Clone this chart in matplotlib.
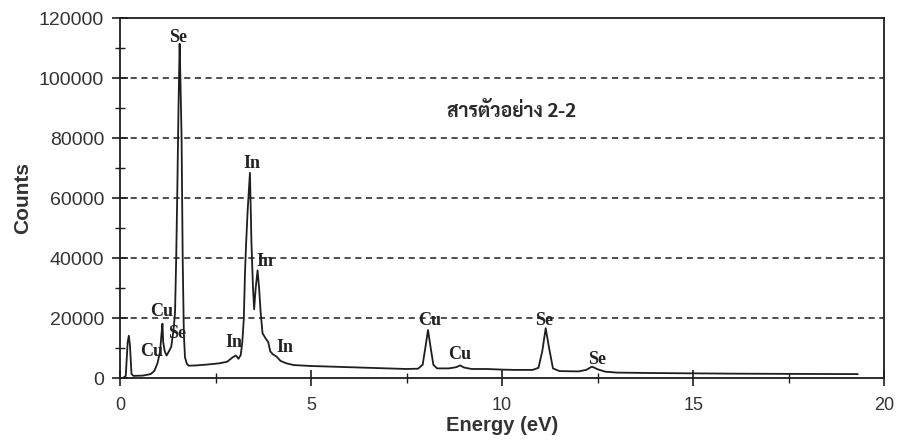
import matplotlib
matplotlib.use("Agg")
import matplotlib.pyplot as plt
from matplotlib.ticker import MultipleLocator

plt.rcParams["font.family"] = ["Liberation Sans", "DejaVu Sans"]

# EDS spectrum, sample 2-2 (energy vs counts)
energy = [0.07, 0.15, 0.20, 0.23, 0.26, 0.30, 0.35, 0.60, 0.80, 0.90, 0.98, 1.05,
          1.08, 1.11, 1.13, 1.17, 1.22, 1.28, 1.34, 1.40, 1.44, 1.47, 1.50, 1.53,
          1.56, 1.58, 1.61, 1.64, 1.67, 1.70, 1.75, 1.80, 2.0, 2.3, 2.6, 2.8,
          2.95, 3.03, 3.10, 3.16, 3.20, 3.24, 3.27, 3.30, 3.34, 3.40, 3.44, 3.48,
          3.51, 3.55, 3.60, 3.64, 3.68, 3.73, 3.80, 3.88, 3.93, 4.00, 4.10, 4.20,
          4.35, 4.55, 5.0, 5.5, 6.0, 6.5, 7.0, 7.5, 7.8, 7.92, 8.0, 8.06,
          8.12, 8.2, 8.3, 8.6, 8.8, 8.9, 9.0, 9.2, 9.6, 10.0, 10.3, 10.8,
          10.95, 11.05, 11.14, 11.23, 11.33, 11.5, 12.0, 12.2, 12.35, 12.5, 12.7, 13.0,
          14.0, 15.0, 16.0, 17.0, 18.0, 19.3]
counts = [0, 800, 12000, 14200, 11000, 1500, 800, 900, 1400, 2500, 5000, 9000,
          14000, 18200, 12000, 9000, 7600, 9000, 10500, 16000, 22000, 40000, 63000, 90000,
          111500, 100000, 81000, 40000, 15000, 7000, 4800, 4200, 4300, 4600, 5000, 5500,
          7000, 7600, 6500, 7800, 12000, 20000, 35000, 45000, 56000, 68500, 45000, 30000,
          23000, 30000, 36000, 30000, 22000, 15000, 13500, 12000, 9000, 8000, 7200, 5800,
          5000, 4400, 4100, 3900, 3700, 3500, 3300, 3100, 3200, 4500, 11000, 16100,
          11000, 4500, 3300, 3300, 3700, 4300, 3600, 3100, 3100, 2900, 2800, 2800,
          3500, 9000, 16700, 10000, 3300, 2400, 2300, 2800, 3900, 3000, 2200, 1900,
          1750, 1650, 1550, 1500, 1450, 1400]

# peak labels
peak_names = ["Se", "In", "In", "Cu", "Se", "Cu", "In", "In", "Cu", "Cu", "Se", "Se"]
peak_x = [1.52, 3.45, 3.79, 1.09, 1.48, 0.83, 2.97, 4.32, 8.10, 8.88, 11.10, 12.48]
peak_y = [113500, 71700, 38900, 22200, 15000, 8900, 11900, 10300, 19200, 7800, 19200, 6100]

sample_name = "สารตัวอย่าง 2-2"

fig = plt.figure(figsize=(8.97, 4.47), dpi=100)
ax = fig.add_axes([0.1338, 0.1537, 0.852, 0.8053])

ax.plot(energy, counts, color="#1e1e1e", lw=1.3)

ax.set_xlim(0, 20)
ax.set_ylim(0, 120000)
ax.xaxis.set_major_locator(MultipleLocator(5))
ax.xaxis.set_minor_locator(MultipleLocator(2.5))
ax.yaxis.set_major_locator(MultipleLocator(20000))
ax.yaxis.set_minor_locator(MultipleLocator(10000))
ax.tick_params(which="major", direction="inout", length=11, width=1.2,
               labelcolor="#333333", color="#1e1e1e")
ax.tick_params(which="minor", direction="inout", length=7, width=1.0, color="#1e1e1e")
ax.tick_params(axis="x", pad=8, labelsize=13)
ax.tick_params(axis="y", pad=6, labelsize=14)
for s in ax.spines.values():
    s.set_linewidth(1.3)
    s.set_color("#1e1e1e")

for g in [20000, 40000, 60000, 80000, 100000]:
    ax.axhline(g, color="#1e1e1e", lw=1.1, ls=(0, (4, 3)), zorder=0)

for name, x, y in zip(peak_names, peak_x, peak_y):
    ax.text(x, y, name, ha="center", va="center", fontsize=13,
            family="Liberation Serif", fontweight="bold", color="#222222")

ax.text(10.24, 88900, sample_name, ha="center", va="center", fontsize=14,
        family=["Sarabun", "DejaVu Sans"], fontweight="bold", color="#2a2a2a")

ax.set_xlabel("Energy (eV)", fontsize=14.5, fontweight="bold", color="#333333")
ax.set_ylabel("Counts", fontsize=15, fontweight="bold", color="#333333")
ax.xaxis.set_label_coords(0.5, -0.105)
ax.yaxis.set_label_coords(-0.115, 0.5)

fig.savefig("out.png", dpi=100)
